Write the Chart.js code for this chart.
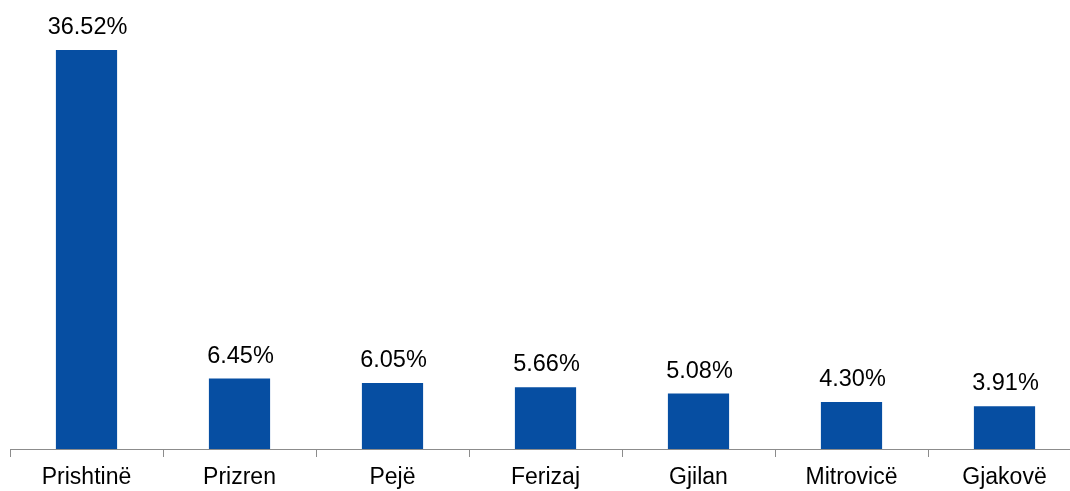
<!DOCTYPE html>
<html><head><meta charset="utf-8">
<script src="https://cdn.jsdelivr.net/npm/chart.js@4"></script>
<style>html,body{margin:0;padding:0;background:#fff;overflow:hidden}#wrap{position:relative;width:1081px;height:491px}</style>
</head><body><div id="wrap"><canvas id="c"></canvas></div>
<script>
const categories = ["Prishtinë","Prizren","Pejë","Ferizaj","Gjilan","Mitrovicë","Gjakovë"];
const values = [36.52, 6.45, 6.05, 5.66, 5.08, 4.30, 3.91];
const valueLabels = ["36.52%","6.45%","6.05%","5.66%","5.08%","4.30%","3.91%"];

const labelPlugin = {
  id: 'barLabels',
  afterDatasetsDraw(chart) {
    const ctx = chart.ctx;
    const meta = chart.getDatasetMeta(0);
    ctx.save();
    ctx.font = '23.5px "Liberation Sans", Arial, sans-serif';
    ctx.fillStyle = '#000';
    ctx.textAlign = 'center';
    ctx.textBaseline = 'alphabetic';
    meta.data.forEach((bar, i) => {
      ctx.fillText(valueLabels[i], bar.x + 1, bar.y - 16);
    });
    ctx.restore();
  }
};

new Chart(document.getElementById('c'), {
  type: 'bar',
  data: { labels: categories, datasets: [{ data: values, backgroundColor: '#064EA2', categoryPercentage: 0.8, barPercentage: 0.5 }] },
  options: {
    responsive: true, maintainAspectRatio: false, animation: false,
    layout: { padding: { left: 10, right: 0, top: 0, bottom: 0 } },
    plugins: { legend: { display: false }, tooltip: { enabled: false } },
    scales: {
      y: { display: false, min: 0, max: 41.1 },
      x: {
        afterFit(scale) { scale.height = 42; },
        border: { display: true, color: '#8c8c8c', width: 1 },
        grid: { display: true, drawOnChartArea: false, drawTicks: true, tickLength: 8, color: '#8c8c8c', offset: true },
        ticks: { color: '#000', font: { family: '"Liberation Sans", Arial, sans-serif', size: 23, lineHeight: 1 }, padding: 9, maxRotation: 0, autoSkip: false }
      }
    }
  },
  plugins: [labelPlugin]
});
</script></body></html>
